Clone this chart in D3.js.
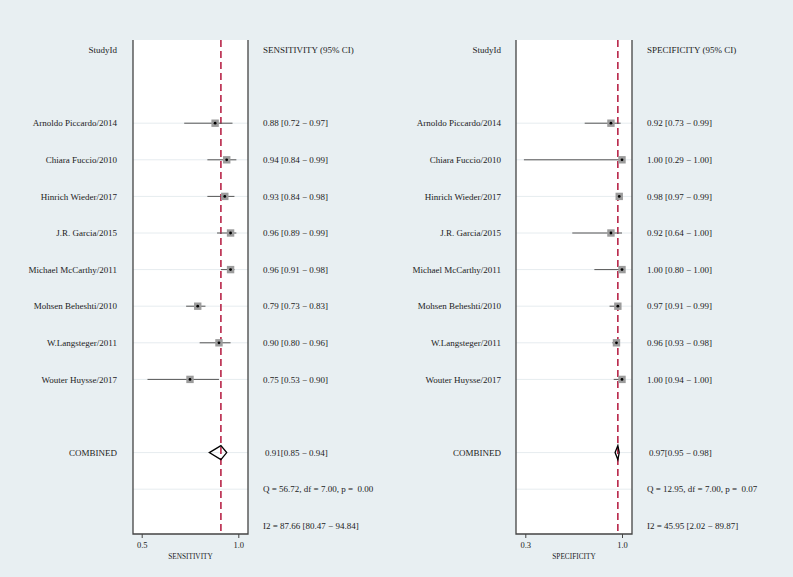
<!doctype html>
<html>
<head>
<style>
body { margin: 0; background: #e8eff2; }
text { font-family: "Liberation Serif", "Times New Roman", serif; fill: #222; white-space: pre; }
</style>
<script src="https://d3js.org/d3.v7.min.js"></script>
</head>
<body>
<svg width="793" height="577"></svg>
<script>
var studies = ["Arnoldo Piccardo/2014", "Chiara Fuccio/2010", "Hinrich Wieder/2017", "J.R. Garcia/2015",
	"Michael McCarthy/2011", "Mohsen Beheshti/2010", "W.Langsteger/2011", "Wouter Huysse/2017"];

var sensEst = [0.88, 0.94, 0.93, 0.96, 0.96, 0.79, 0.90, 0.75];
var sensLo = [0.72, 0.84, 0.84, 0.89, 0.91, 0.73, 0.80, 0.53];
var sensHi = [0.97, 0.99, 0.98, 0.99, 0.98, 0.83, 0.96, 0.90];
var sensPooled = [0.91, 0.85, 0.94];
var sensStats = ["Q = 56.72, df = 7.00, p =  0.00", "I2 = 87.66 [80.47 \u2212 94.84]"];

var specEst = [0.92, 1.00, 0.98, 0.92, 1.00, 0.97, 0.96, 1.00];
var specLo = [0.73, 0.29, 0.97, 0.64, 0.80, 0.91, 0.93, 0.94];
var specHi = [0.99, 1.00, 0.99, 1.00, 1.00, 0.99, 0.98, 1.00];
var specPooled = [0.97, 0.95, 0.98];
var specStats = ["Q = 12.95, df = 7.00, p =  0.07", "I2 = 45.95 [2.02 \u2212 89.87]"];

var svg = d3.select("svg");
var rowY = function(i) { return 50 + i * 36.6; };
var f2 = d3.format(".2f");

function panel(o) {
	var g = svg.append("g");
	var x = d3.scaleLinear().domain(o.domain).range(o.range);

	g.append("rect").attr("x", o.box[0]).attr("y", 40).attr("width", o.box[1] - o.box[0])
		.attr("height", 494).attr("fill", "#fff");

	// light grid lines at each row
	var rows = d3.range(2, 13).filter(function(i) { return i != 10; });
	g.selectAll(".grid").data(rows).enter().append("line")
		.attr("x1", o.box[0]).attr("x2", o.box[1])
		.attr("y1", rowY).attr("y2", rowY)
		.attr("stroke", "#e6ecef").attr("stroke-width", 1);

	// pooled line
	g.append("line").attr("x1", x(o.pooled[0])).attr("x2", x(o.pooled[0]))
		.attr("y1", 40).attr("y2", 534)
		.attr("stroke", "#b3163c").attr("stroke-width", 1.5).attr("stroke-dasharray", "7,4");

	// box edges
	g.append("path")
		.attr("d", "M" + o.box[0] + ",40V534H" + o.box[1] + "V40")
		.attr("fill", "none").attr("stroke", "#444").attr("stroke-width", 1.3);

	var st = g.selectAll(".study").data(studies).enter().append("g")
		.attr("transform", function(d, i) { return "translate(0," + rowY(i + 2) + ")"; });
	st.append("line")
		.attr("x1", function(d, i) { return x(o.lo[i]); })
		.attr("x2", function(d, i) { return x(o.hi[i]); })
		.attr("stroke", "#555").attr("stroke-width", 1);
	st.append("rect")
		.attr("x", function(d, i) { return x(o.est[i]) - 3.7; })
		.attr("y", -3.7).attr("width", 7.4).attr("height", 7.4)
		.attr("fill", "#9c9c9c");
	st.append("circle")
		.attr("cx", function(d, i) { return x(o.est[i]); })
		.attr("r", 1.4).attr("fill", "#000");
	st.append("text").attr("x", o.labelX).attr("dy", "0.35em")
		.attr("text-anchor", "end").attr("font-size", 9).text(function(d) { return d; });
	st.append("text").attr("x", o.valX).attr("dy", "0.35em").attr("font-size", 9)
		.text(function(d, i) { return f2(o.est[i]) + " [" + f2(o.lo[i]) + " \u2212 " + f2(o.hi[i]) + "]"; });

	// combined diamond
	var cy = rowY(11);
	g.append("path")
		.attr("d", "M" + x(o.pooled[1]) + "," + cy + "L" + x(o.pooled[0]) + "," + (cy - 7) +
			"L" + x(o.pooled[2]) + "," + cy + "L" + x(o.pooled[0]) + "," + (cy + 7) + "Z")
		.attr("fill", "none").attr("stroke", "#000").attr("stroke-width", 1.3);

	g.append("text").attr("x", o.labelX).attr("y", rowY(0)).attr("dy", "0.35em")
		.attr("text-anchor", "end").attr("font-size", 9).text("StudyId");
	g.append("text").attr("x", o.valX).attr("y", rowY(0)).attr("dy", "0.35em")
		.attr("font-size", 9).text(o.header);
	g.append("text").attr("x", o.labelX).attr("y", cy).attr("dy", "0.35em")
		.attr("text-anchor", "end").attr("font-size", 9).text("COMBINED");
	g.append("text").attr("x", o.valX + 2).attr("y", cy).attr("dy", "0.35em").attr("font-size", 9)
		.text(f2(o.pooled[0]) + "[" + f2(o.pooled[1]) + " \u2212 " + f2(o.pooled[2]) + "]");
	g.selectAll(".stat").data(o.stats).enter().append("text")
		.attr("x", o.valX).attr("y", function(d, i) { return rowY(12 + i); }).attr("dy", "0.35em")
		.attr("font-size", 9).text(function(d) { return d; });

	var ax = g.append("g").attr("transform", "translate(0,534)")
		.call(d3.axisBottom(x).tickValues(o.domain).tickFormat(d3.format(".1f")).tickSize(4).tickPadding(4));
	ax.select(".domain").remove();
	ax.selectAll("line").attr("stroke", "#444");
	ax.selectAll("text").attr("font-family", "Liberation Serif").attr("font-size", 8.5).attr("fill", "#333");

	g.append("text").attr("x", (o.box[0] + o.box[1]) / 2).attr("y", 559)
		.attr("text-anchor", "middle").attr("font-size", 7.3).text(o.axisTitle);
}

panel({ domain: [0.5, 1.0], range: [141.7, 238.3], box: [133, 248], labelX: 117, valX: 263,
	est: sensEst, lo: sensLo, hi: sensHi, pooled: sensPooled, stats: sensStats,
	header: "SENSITIVITY (95% CI)", axisTitle: "SENSITIVITY" });
panel({ domain: [0.3, 1.0], range: [525.3, 622], box: [516, 632], labelX: 501, valX: 647,
	est: specEst, lo: specLo, hi: specHi, pooled: specPooled, stats: specStats,
	header: "SPECIFICITY (95% CI)", axisTitle: "SPECIFICITY" });
</script>
</body>
</html>
